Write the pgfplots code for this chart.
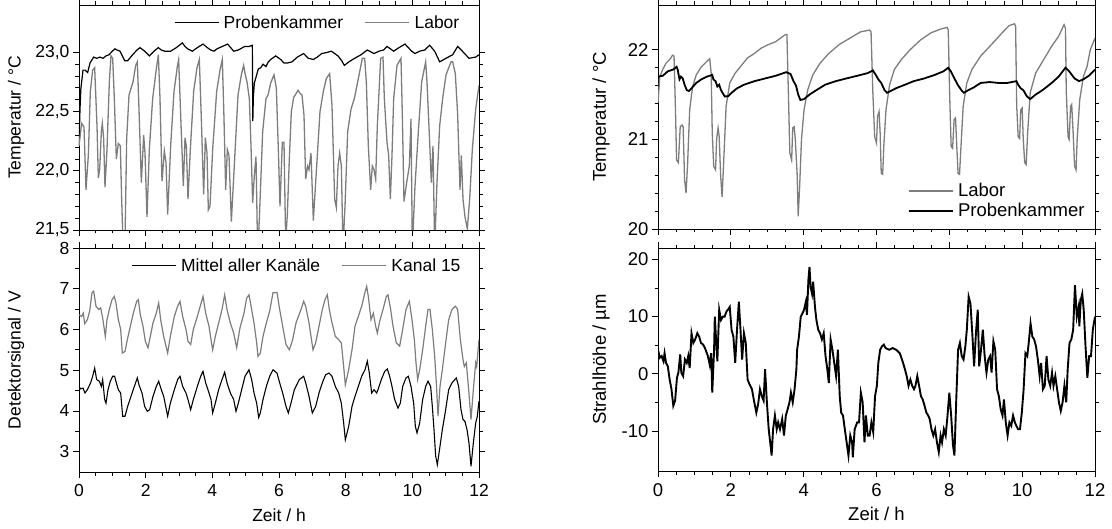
\documentclass[border=0pt]{standalone}
\usepackage{fontspec}
\setmainfont{Liberation Sans}
\usepackage{pgfplots}
\pgfplotsset{compat=1.18}
\definecolor{lgray}{RGB}{125,125,125}
\newcommand{\fs}{\fontsize{17.5}{20.5}\selectfont}
\newcommand{\fsr}{\fontsize{18.5}{21.5}\selectfont}
\pgfplotsset{
  base/.style={
    scale only axis,
    anchor=south west,
    xmin=0, xmax=12,
    xtick={0,2,...,12},
    minor x tick num=3,
    tick align=outside,
    major tick length=6pt,
    minor tick length=3.5pt,
    every tick/.style={black, line width=0.8pt},
    axis line style={black, line width=0.8pt},
    tick label style={font=\fs},
    xticklabel style={yshift=-3pt},
    label style={font=\fs},
    /pgf/number format/assume math mode=true,
    legend style={draw=none, fill=none, font=\fs, inner sep=0pt,
      nodes={inner sep=1.5pt},
      row sep=2pt,
      /tikz/every even column/.append style={column sep=20pt}},
    legend cell align=left,
    legend image code/.code={\draw[##1] (0pt,0pt) -- (44pt,0pt);\path (47pt,0pt);},
  },
  rbig/.style={
    tick label style={font=\fsr},
    label style={font=\fsr},
    legend style={font=\fsr},
  },
}
\begin{document}
\begin{tikzpicture}
\path[use as bounding box] (0,0) rectangle (1112pt,528pt);

% ---------- left top ----------
\begin{axis}[base, at={(79pt,298pt)}, width=400pt, height=225pt,
  ymin=21.5, ymax=23.4, ytick={21.5,22,22.5,23}, minor y tick num=4,
  yticklabel style={/pgf/number format/.cd, fixed, fixed zerofill, precision=1, use comma},
  xticklabels={},
  ylabel={Temperatur / °C},
  ylabel style={at={(axis description cs:-0.1575,0.5)}, anchor=center},
  legend columns=2,
  legend style={at={(0.955,0.96)}, anchor=north east},
]
\addplot[black, line width=1.2pt] coordinates {
(0.00,22.21)(0.03,22.52)(0.055,22.69)(0.12,22.85)(0.18,22.85)(0.26,22.83)(0.33,22.91)(0.44,22.96)(0.53,22.95)(0.63,22.96)(0.72,22.95)(0.81,22.97)(0.9,22.98)(1.00,23.01)(1.08,23.03)(1.14,23.02)(1.23,23.01)(1.30,22.97)(1.37,22.93)(1.46,22.93)(1.55,22.96)(1.64,22.99)(1.74,23.02)(1.83,23.04)(1.97,23.01)(2.11,22.97)(2.25,23.01)(2.38,23.04)(2.47,23.02)(2.57,23.01)(2.75,23.01)(2.92,23.04)(3.10,23.08)(3.18,23.05)(3.26,23.03)(3.40,23.01)(3.55,23.04)(3.72,23.07)(3.85,23.04)(3.95,23.02)(4.05,23.01)(4.14,23.03)(4.30,23.05)(4.46,23.07)(4.55,23.04)(4.64,23.01)(4.78,23.02)(4.97,23.05)(5.10,23.05)(5.20,23.06)(5.215,22.42)(5.23,22.62)(5.26,22.74)(5.38,22.86)(5.45,22.87)(5.52,22.90)(5.61,22.88)(5.68,22.92)(5.75,22.94)(5.90,22.97)(6.05,22.94)(6.15,22.91)(6.25,22.91)(6.39,22.92)(6.55,22.96)(6.74,22.99)(6.88,22.95)(7.03,22.94)(7.15,22.96)(7.28,22.99)(7.45,23.00)(7.57,23.01)(7.77,22.97)(7.88,22.93)(7.96,22.89)(8.10,22.92)(8.21,22.94)(8.46,22.98)(8.65,23.02)(8.85,22.99)(9.0,23.01)(9.14,23.02)(9.24,23.05)(9.44,23.01)(9.6,23.04)(9.78,23.07)(9.98,23.01)(10.08,22.99)(10.22,23.01)(10.37,23.02)(10.52,23.06)(10.67,23.01)(10.82,22.92)(11.01,22.95)(11.21,22.98)(11.36,23.05)(11.50,23.01)(11.70,22.95)(11.90,22.96)(12.00,22.98)
};
\addlegendentry{Probenkammer}
\addplot[lgray, line width=1.3pt] coordinates {
(0.00,22.21)(0.08,22.40)(0.15,22.37)(0.21,21.84)(0.28,22.13)(0.34,22.67)(0.41,22.85)(0.47,22.87)(0.54,22.38)(0.58,21.94)(0.62,22.01)(0.67,22.33)(0.70,22.40)(0.74,22.27)(0.78,21.86)(0.84,22.18)(0.91,22.75)(0.96,22.97)(1.01,22.95)(1.06,22.61)(1.12,22.10)(1.18,22.23)(1.24,22.21)(1.28,21.76)(1.33,21.30)(1.38,21.40)(1.43,22.27)(1.50,22.64)(1.62,22.75)(1.70,22.89)(1.75,22.92)(1.80,22.52)(1.87,21.90)(1.94,22.30)(1.98,22.15)(2.04,21.61)(2.11,22.18)(2.21,22.61)(2.31,22.84)(2.38,22.98)(2.43,22.61)(2.49,21.91)(2.56,22.17)(2.61,22.07)(2.66,21.63)(2.75,22.21)(2.85,22.67)(2.95,22.88)(2.99,22.94)(3.05,22.47)(3.13,21.87)(3.18,22.28)(3.22,22.21)(3.27,21.76)(3.34,22.18)(3.44,22.67)(3.54,22.87)(3.61,22.94)(3.67,22.44)(3.74,21.80)(3.79,22.28)(3.84,22.15)(3.88,21.67)(3.93,21.70)(4.01,22.18)(4.13,22.67)(4.23,22.85)(4.30,22.94)(4.35,22.44)(4.40,21.84)(4.45,22.18)(4.50,22.13)(4.57,21.57)(4.67,22.10)(4.77,22.64)(4.87,22.81)(4.94,22.89)(4.99,22.81)(5.04,22.75)(5.11,22.61)(5.16,22.21)(5.21,21.73)(5.26,21.96)(5.31,22.12)(5.36,21.30)(5.41,21.59)(5.51,22.33)(5.61,22.61)(5.67,22.64)(5.75,22.74)(5.85,22.81)(5.92,22.70)(5.98,22.18)(6.03,21.70)(6.10,22.24)(6.15,22.24)(6.20,21.40)(6.25,21.63)(6.31,22.10)(6.37,22.50)(6.44,22.62)(6.51,22.65)(6.57,22.68)(6.64,22.65)(6.69,22.64)(6.75,22.47)(6.80,21.93)(6.86,22.04)(6.90,22.01)(6.96,22.15)(7.03,21.58)(7.13,22.04)(7.23,22.50)(7.33,22.67)(7.42,22.78)(7.52,22.82)(7.59,22.55)(7.67,21.76)(7.72,21.69)(7.77,22.04)(7.82,22.15)(7.87,22.04)(7.92,21.35)(7.98,21.70)(8.06,22.33)(8.16,22.52)(8.26,22.61)(8.36,22.75)(8.50,22.95)(8.57,22.95)(8.62,22.75)(8.68,22.21)(8.75,21.84)(8.80,22.04)(8.85,22.01)(8.90,21.93)(8.95,22.38)(9.05,22.95)(9.12,22.96)(9.16,22.61)(9.24,22.24)(9.29,22.13)(9.34,21.76)(9.39,22.13)(9.44,22.61)(9.54,22.89)(9.66,22.95)(9.70,22.47)(9.75,21.74)(9.83,21.90)(9.91,22.04)(9.96,22.44)(10.00,21.35)(10.08,21.87)(10.18,22.33)(10.28,22.75)(10.40,22.92)(10.44,22.75)(10.52,22.24)(10.57,21.90)(10.62,22.21)(10.67,21.35)(10.74,21.90)(10.82,22.38)(10.91,22.61)(11.01,22.81)(11.16,22.92)(11.21,22.92)(11.29,22.82)(11.36,22.47)(11.43,21.84)(11.47,22.13)(11.52,21.76)(11.58,21.61)(11.65,21.51)(11.72,21.76)(11.80,22.18)(11.90,22.52)(12.00,22.72)
};
\addlegendentry{Labor}
\end{axis}

% ---------- left bottom ----------
\begin{axis}[base, at={(79pt,56pt)}, width=400pt, height=224pt,
  ymin=2.5, ymax=8, ytick={3,4,5,6,7,8}, minor y tick num=1,
  xlabel={Zeit / h},
  xlabel style={at={(axis description cs:0.5,-0.192)}, anchor=center},
  ylabel={Detektorsignal / V},
  ylabel style={at={(axis description cs:-0.1575,0.5)}, anchor=center},
  legend columns=2,
  legend style={at={(0.958,0.96)}, anchor=north east},
]
\addplot[black, line width=1.1pt] coordinates {
(0,4.60)(.05,4.54)(.12,4.56)(.18,4.44)(.25,4.52)(.35,4.69)(.41,4.85)(.47,5.05)(.53,4.77)(.61,4.73)(.67,4.60)(.71,4.77)(.77,4.28)(.81,4.19)(.87,4.52)(.94,4.73)(1.01,4.85)(1.07,4.85)(1.12,4.69)(1.18,4.52)(1.25,4.44)(1.31,3.87)(1.38,3.87)(1.46,4.11)(1.56,4.36)(1.66,4.60)(1.75,4.81)(1.80,4.64)(1.89,4.44)(1.97,4.11)(2.05,3.99)(2.12,4.03)(2.22,4.36)(2.32,4.60)(2.39,4.73)(2.47,4.52)(2.54,4.36)(2.66,3.87)(2.74,4.19)(2.86,4.52)(2.96,4.77)(3.03,4.85)(3.11,4.60)(3.21,4.44)(3.27,4.28)(3.35,4.03)(3.43,4.28)(3.55,4.60)(3.65,4.85)(3.72,4.97)(3.80,4.69)(3.90,4.44)(3.96,4.28)(4.01,3.95)(4.09,4.19)(4.19,4.52)(4.29,4.77)(4.37,4.95)(4.44,4.69)(4.54,4.44)(4.64,4.28)(4.71,3.99)(4.78,4.19)(4.88,4.52)(4.98,4.85)(5.10,5.01)(5.18,4.77)(5.25,4.44)(5.33,4.19)(5.39,3.84)(5.44,3.95)(5.52,4.28)(5.62,4.60)(5.72,4.85)(5.82,5.01)(5.94,4.93)(6.02,4.69)(6.11,4.44)(6.21,4.11)(6.28,3.95)(6.36,4.19)(6.46,4.52)(6.61,4.77)(6.74,4.85)(6.80,4.69)(6.90,4.36)(7.00,3.95)(7.10,4.11)(7.20,4.44)(7.30,4.69)(7.40,4.89)(7.50,4.93)(7.59,4.85)(7.69,4.60)(7.79,4.44)(7.87,4.19)(7.94,3.70)(7.99,3.29)(8.09,3.62)(8.19,4.11)(8.28,4.36)(8.38,4.60)(8.48,4.85)(8.58,5.01)(8.65,5.22)(8.71,4.93)(8.78,4.44)(8.85,4.52)(8.93,4.44)(8.97,4.52)(9.07,4.77)(9.17,4.97)(9.25,5.03)(9.32,4.85)(9.39,4.60)(9.47,4.28)(9.57,4.07)(9.64,4.19)(9.71,4.60)(9.81,4.81)(9.88,4.85)(9.96,4.60)(10.04,4.19)(10.09,3.62)(10.14,3.46)(10.22,3.70)(10.31,4.28)(10.40,4.60)(10.47,4.73)(10.55,4.60)(10.60,4.11)(10.65,3.54)(10.70,2.89)(10.75,2.68)(10.83,3.13)(10.90,3.54)(11.00,4.03)(11.09,4.52)(11.19,4.69)(11.32,4.81)(11.39,4.60)(11.46,4.03)(11.52,3.79)(11.58,3.74)(11.64,3.54)(11.70,3.21)(11.76,2.64)(11.83,3.21)(11.90,3.70)(11.95,3.87)(12.00,4.24)
};
\addlegendentry{Mittel aller Kanäle}
\addplot[lgray, line width=1.2pt] coordinates {
(0,6.36)(.08,6.32)(.13,6.40)(.17,6.14)(.25,6.24)(.32,6.45)(.39,6.90)(.44,6.94)(.51,6.57)(.59,6.49)(.65,6.53)(.71,6.28)(.79,5.83)(.84,6.24)(.91,6.49)(.99,6.73)(1.06,6.81)(1.11,6.65)(1.18,6.24)(1.25,6.00)(1.30,5.42)(1.38,5.46)(1.45,5.75)(1.53,6.04)(1.63,6.40)(1.73,6.69)(1.78,6.73)(1.84,6.36)(1.92,6.08)(1.99,5.71)(2.07,5.55)(2.14,5.83)(2.22,6.16)(2.32,6.40)(2.39,6.65)(2.45,6.24)(2.54,5.83)(2.66,5.42)(2.74,5.83)(2.86,6.32)(2.96,6.57)(3.03,6.69)(3.11,6.32)(3.21,6.00)(3.27,5.71)(3.35,5.63)(3.43,6.00)(3.55,6.32)(3.65,6.61)(3.72,6.81)(3.80,6.40)(3.90,6.08)(3.96,5.75)(4.01,5.50)(4.09,5.83)(4.19,6.16)(4.29,6.49)(4.37,6.85)(4.44,6.49)(4.54,6.16)(4.64,5.91)(4.73,5.55)(4.83,6.04)(4.95,6.40)(5.03,6.77)(5.10,6.85)(5.18,6.49)(5.25,6.16)(5.33,5.67)(5.37,5.34)(5.44,5.42)(5.52,5.83)(5.62,6.16)(5.72,6.45)(5.82,6.90)(5.94,6.91)(6.02,6.49)(6.11,6.08)(6.21,5.63)(6.31,5.50)(6.41,5.75)(6.51,6.16)(6.66,6.49)(6.74,6.69)(6.80,6.57)(6.90,6.16)(7.02,5.50)(7.10,5.67)(7.20,6.08)(7.30,6.49)(7.38,6.73)(7.45,6.85)(7.51,6.49)(7.59,6.16)(7.69,5.83)(7.79,5.75)(7.87,5.67)(7.94,5.09)(7.99,4.64)(8.09,5.01)(8.19,5.50)(8.28,6.08)(8.38,6.32)(8.48,6.57)(8.56,6.85)(8.63,7.06)(8.68,6.81)(8.76,6.24)(8.83,6.40)(8.90,6.08)(8.95,5.91)(9.02,6.20)(9.12,6.49)(9.22,6.81)(9.27,6.85)(9.35,6.49)(9.42,6.08)(9.52,5.67)(9.62,5.59)(9.71,6.00)(9.81,6.49)(9.91,6.69)(9.99,6.24)(10.06,5.75)(10.11,5.18)(10.16,4.77)(10.22,5.01)(10.31,5.50)(10.40,6.08)(10.47,6.49)(10.53,6.49)(10.60,6.00)(10.67,5.34)(10.72,4.69)(10.77,3.87)(10.83,4.60)(10.90,5.01)(11.00,5.67)(11.09,6.24)(11.19,6.49)(11.29,6.57)(11.36,6.49)(11.44,5.75)(11.52,5.26)(11.56,5.09)(11.62,5.18)(11.69,4.52)(11.76,3.79)(11.83,4.52)(11.90,5.18)(11.93,5.09)(12.00,5.75)
};
\addlegendentry{Kanal 15}
\end{axis}

% ---------- right top ----------
\begin{axis}[base, rbig, at={(658pt,299pt)}, width=437pt, height=224pt,
  ymin=20, ymax=22.5, ytick={20,21,22}, minor y tick num=4,
  xticklabels={},
  ylabel={Temperatur / °C},
  ylabel style={at={(axis description cs:-0.1304,0.5)}, anchor=center},
  legend style={at={(0.98,0.04)}, anchor=south east},
]
\addplot[lgray, line width=1.3pt] coordinates {
(0.00,21.41)(0.05,21.70)(0.13,21.78)(0.22,21.85)(0.32,21.89)(0.40,21.94)(0.44,21.93)(0.48,21.33)(0.51,20.77)(0.56,20.74)(0.61,21.14)(0.66,21.16)(0.69,21.14)(0.73,20.55)(0.77,20.40)(0.81,20.70)(0.87,21.33)(0.95,21.59)(1.05,21.72)(1.19,21.81)(1.34,21.87)(1.42,21.90)(1.46,21.74)(1.49,21.07)(1.53,20.70)(1.58,20.66)(1.61,21.00)(1.65,21.13)(1.68,21.03)(1.72,20.59)(1.76,20.36)(1.81,20.81)(1.87,21.37)(1.97,21.63)(2.12,21.74)(2.26,21.81)(2.46,21.91)(2.65,21.96)(2.84,22.02)(3.04,22.06)(3.23,22.09)(3.43,22.15)(3.50,22.17)(3.54,22.17)(3.58,21.52)(3.62,20.85)(3.67,20.77)(3.70,21.13)(3.74,21.14)(3.77,21.00)(3.82,20.62)(3.85,20.14)(3.89,20.48)(3.94,21.00)(4.01,21.33)(4.11,21.55)(4.25,21.72)(4.45,21.85)(4.69,21.96)(4.98,22.06)(5.27,22.13)(5.56,22.20)(5.81,22.22)(5.85,22.20)(5.90,21.52)(5.95,21.03)(6.00,20.96)(6.03,21.26)(6.07,21.31)(6.10,21.07)(6.13,20.62)(6.17,20.61)(6.20,20.92)(6.26,21.33)(6.36,21.61)(6.49,21.78)(6.68,21.89)(6.92,22.00)(7.21,22.11)(7.50,22.19)(7.75,22.23)(7.94,22.25)(7.97,22.22)(8.01,21.48)(8.05,20.92)(8.09,20.90)(8.13,21.22)(8.17,21.24)(8.20,20.96)(8.24,20.62)(8.28,20.61)(8.32,20.92)(8.38,21.37)(8.48,21.63)(8.62,21.78)(8.86,21.93)(9.16,22.06)(9.45,22.19)(9.64,22.27)(9.79,22.29)(9.82,22.26)(9.85,21.37)(9.89,21.03)(9.93,21.01)(9.96,21.33)(10.00,21.35)(10.03,21.00)(10.07,20.74)(10.11,20.72)(10.15,21.07)(10.22,21.52)(10.37,21.74)(10.56,21.87)(10.81,22.04)(11.00,22.15)(11.15,22.28)(11.19,22.24)(11.21,21.55)(11.26,21.03)(11.29,21.00)(11.33,21.37)(11.36,21.39)(11.40,21.07)(11.44,20.70)(11.48,20.66)(11.51,21.00)(11.58,21.44)(11.68,21.70)(11.78,21.81)(11.87,22.00)(12.00,22.13)
};
\addlegendentry{Labor}
\addplot[black, line width=1.8pt] coordinates {
(0,21.70)(.13,21.71)(.27,21.76)(.42,21.78)(.51,21.81)(.54,21.78)(.59,21.67)(.63,21.70)(.68,21.68)(.73,21.61)(.79,21.55)(.85,21.54)(.92,21.57)(1.05,21.63)(1.19,21.67)(1.34,21.70)(1.49,21.72)(1.52,21.67)(1.58,21.65)(1.63,21.59)(1.68,21.61)(1.73,21.55)(1.83,21.48)(1.92,21.48)(2.02,21.52)(2.17,21.57)(2.36,21.61)(2.65,21.65)(2.94,21.68)(3.23,21.71)(3.52,21.75)(3.64,21.73)(3.72,21.65)(3.79,21.60)(3.85,21.50)(3.91,21.44)(4.01,21.45)(4.16,21.50)(4.35,21.55)(4.59,21.61)(4.88,21.65)(5.17,21.68)(5.47,21.71)(5.76,21.74)(5.90,21.77)(5.98,21.72)(6.05,21.67)(6.13,21.63)(6.22,21.55)(6.29,21.52)(6.39,21.54)(6.53,21.57)(6.78,21.61)(7.02,21.65)(7.31,21.68)(7.60,21.72)(7.84,21.76)(7.97,21.80)(8.04,21.76)(8.14,21.68)(8.23,21.61)(8.33,21.55)(8.40,21.52)(8.52,21.55)(8.67,21.58)(8.86,21.63)(9.11,21.64)(9.35,21.63)(9.59,21.63)(9.84,21.65)(9.89,21.61)(9.96,21.57)(10.03,21.55)(10.13,21.48)(10.22,21.45)(10.37,21.50)(10.56,21.55)(10.81,21.63)(11.00,21.70)(11.19,21.80)(11.29,21.76)(11.44,21.68)(11.56,21.65)(11.68,21.67)(11.83,21.71)(12.00,21.78)
};
\addlegendentry{Probenkammer}
\end{axis}

% ---------- right bottom ----------
\begin{axis}[base, rbig, at={(658pt,57pt)}, width=437pt, height=223pt,
  ymin=-17, ymax=22, ytick={-10,0,10,20}, minor y tick num=1,
  xlabel={Zeit / h},
  xlabel style={at={(axis description cs:0.5,-0.193)}, anchor=center},
  ylabel={Strahlhöhe / µm},
  ylabel style={at={(axis description cs:-0.1304,0.5)}, anchor=center},
]
\addplot[black, line width=1.9pt] coordinates {
(0.00,4.2)(0.05,2.8)(0.10,3.1)(0.15,2.2)(0.18,3.6)(0.22,1.9)(0.27,1.3)(0.32,-1.0)(0.37,-2.7)(0.42,-5.6)(0.47,-4.7)(0.52,-0.7)(0.56,0.2)(0.61,3.4)(0.64,0.2)(0.69,-0.4)(0.74,2.5)(0.79,1.9)(0.83,3.1)(0.87,1.0)(0.92,7.1)(0.97,5.4)(1.02,6.0)(1.08,7.1)(1.13,6.5)(1.18,5.4)(1.24,5.1)(1.29,4.5)(1.37,3.1)(1.42,1.6)(1.46,3.6)(1.49,-3.3)(1.54,4.2)(1.56,10.0)(1.60,5.4)(1.63,2.2)(1.68,11.2)(1.73,9.4)(1.78,10.0)(1.83,10.0)(1.88,10.9)(1.92,11.2)(1.97,11.7)(2.02,7.7)(2.07,6.5)(2.12,1.9)(2.17,7.7)(2.22,12.6)(2.26,8.3)(2.31,2.5)(2.36,7.1)(2.41,5.4)(2.46,-1.0)(2.51,-1.8)(2.58,-2.7)(2.63,-4.5)(2.70,-6.8)(2.75,-5.3)(2.80,-2.7)(2.85,-3.9)(2.90,-4.7)(2.94,0.8)(2.99,-5.0)(3.04,-9.7)(3.09,-12.5)(3.12,-14.3)(3.16,-9.7)(3.21,-7.3)(3.26,-9.7)(3.30,-8.5)(3.35,-9.7)(3.41,-7.9)(3.46,-10.8)(3.51,-7.3)(3.56,-6.2)(3.61,-5.0)(3.65,-3.3)(3.70,-5.0)(3.75,-2.7)(3.80,0.8)(3.82,4.2)(3.87,6.5)(3.92,10.0)(3.97,10.6)(4.01,11.2)(4.06,12.6)(4.09,10.3)(4.13,16.4)(4.16,18.7)(4.19,15.2)(4.23,14.0)(4.26,16.1)(4.31,11.7)(4.35,9.4)(4.40,7.7)(4.45,7.1)(4.50,6.0)(4.55,7.1)(4.60,3.1)(4.65,0.8)(4.69,-1.6)(4.74,6.0)(4.79,4.2)(4.84,1.9)(4.89,-0.4)(4.94,4.2)(4.99,-3.9)(5.03,-6.8)(5.08,-7.3)(5.13,-9.7)(5.18,-12.0)(5.23,-14.3)(5.28,-10.8)(5.33,-12.0)(5.35,-14.6)(5.40,-9.7)(5.47,-8.5)(5.52,-8.5)(5.57,-3.3)(5.62,-5.0)(5.67,-12.0)(5.71,-7.3)(5.76,-10.8)(5.81,-10.8)(5.86,-8.5)(5.91,-10.2)(5.96,-3.9)(6.01,-2.1)(6.05,1.9)(6.10,4.2)(6.15,4.8)(6.20,5.1)(6.25,4.5)(6.35,4.2)(6.44,4.5)(6.54,4.2)(6.64,3.6)(6.73,1.9)(6.78,0.8)(6.83,-0.4)(6.88,-2.1)(6.93,-1.0)(6.98,-2.1)(7.03,-2.7)(7.07,-2.1)(7.12,-0.4)(7.17,-2.1)(7.22,-3.9)(7.27,-4.5)(7.32,-5.6)(7.37,-6.8)(7.42,-7.3)(7.46,-7.9)(7.51,-9.7)(7.56,-10.8)(7.61,-9.7)(7.66,-12.0)(7.71,-13.7)(7.76,-10.8)(7.80,-12.0)(7.85,-9.7)(7.90,-10.8)(7.95,-7.3)(8.00,-3.3)(8.05,-7.3)(8.10,-12.5)(8.14,-14.3)(8.19,-4.5)(8.24,4.2)(8.29,5.4)(8.34,3.1)(8.39,2.5)(8.44,4.8)(8.48,7.7)(8.53,13.5)(8.58,12.3)(8.63,7.1)(8.68,1.3)(8.73,7.1)(8.78,11.2)(8.82,1.3)(8.87,4.2)(8.92,7.7)(8.97,3.1)(9.02,0.2)(9.07,2.5)(9.12,3.1)(9.16,0.2)(9.21,5.7)(9.26,4.2)(9.31,-2.7)(9.36,-3.9)(9.41,-6.2)(9.46,-7.3)(9.50,-4.5)(9.55,-8.5)(9.60,-10.8)(9.65,-8.5)(9.70,-9.1)(9.75,-7.3)(9.80,-8.5)(9.84,-9.1)(9.89,-9.7)(9.94,-9.7)(9.99,-6.8)(10.04,-2.7)(10.09,3.6)(10.14,3.1)(10.18,5.4)(10.23,8.8)(10.28,6.5)(10.33,6.0)(10.38,4.8)(10.43,2.5)(10.48,-0.4)(10.52,1.9)(10.57,-2.7)(10.62,-2.1)(10.67,3.1)(10.72,-1.0)(10.77,-2.1)(10.82,0.2)(10.86,-2.1)(10.91,-0.4)(10.96,-2.7)(11.01,-5.0)(11.06,-6.5)(11.11,-5.0)(11.16,-2.1)(11.21,-5.0)(11.25,0.8)(11.30,5.4)(11.35,6.0)(11.40,7.7)(11.45,15.5)(11.50,10.0)(11.55,11.7)(11.57,8.3)(11.61,12.9)(11.65,14.0)(11.69,11.2)(11.74,4.8)(11.79,-0.7)(11.84,3.1)(11.89,3.1)(11.94,7.7)(12.00,10.0)
};
\end{axis}
\end{tikzpicture}
\end{document}
